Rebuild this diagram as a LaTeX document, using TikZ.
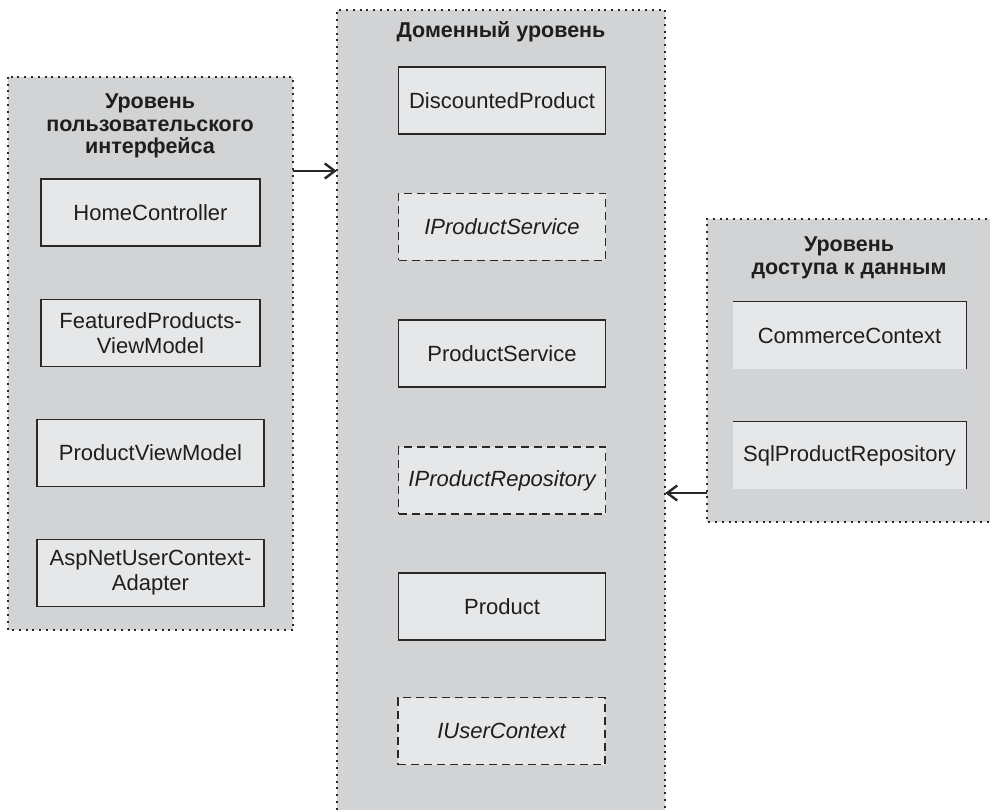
\documentclass[tikz,border=0pt]{standalone}
\usepackage{fontspec}
\setmainfont{Liberation Sans}
\usetikzlibrary{arrows.meta}
\definecolor{layergray}{RGB}{210,211,213}
\definecolor{boxgray}{RGB}{230,231,232}
\definecolor{ink}{RGB}{40,40,40}
\definecolor{txt}{RGB}{30,30,30}
\tikzset{
  layer/.style={fill=layergray, draw=none, inner sep=0pt, rectangle},
  layerborder/.style={draw=ink, line width=2pt, dash pattern=on 2pt off 4.8pt},
  cls/.style={rectangle, fill=boxgray, draw=ink, line width=1.3pt, inner sep=0pt, text=txt,
    minimum height=67pt, align=center, font=\fontsize{22}{25}\selectfont},
  iface/.style={cls, dash pattern=on 8pt off 5pt, font=\fontsize{22}{25}\selectfont\itshape},
  dal/.style={rectangle, fill=boxgray, draw=none, inner sep=0pt, text=txt,
    minimum height=67pt, minimum width=233pt, align=center, font=\fontsize{22}{25}\selectfont},
  title/.style={align=center, inner sep=0pt, text=txt, font=\fontsize{21.5}{22.5}\selectfont\bfseries},
  arr/.style={draw=ink, line width=1.3pt, -{Straight Barb[length=10pt, width=15pt, line width=2.4pt]}}
}
\begin{document}
\begin{tikzpicture}[x=1pt, y=-1pt]
\clip (0,0) rectangle (990,810);
\useasboundingbox (0,0) rectangle (990,810);
\fill[white] (0,0) rectangle (990,810);

% layers
\node[layer, minimum width=285pt, minimum height=553pt] (ui) at (150.5,353.5) {};
\draw[layerborder] (ui.north west) rectangle (ui.south east);
\node[layer, minimum width=328pt, minimum height=820pt] (dom) at (501,420) {};
\draw[layerborder] (dom.south west) -- (dom.north west) -- (dom.north east) -- (dom.south east);
\node[layer, minimum width=300pt, minimum height=303pt] (dat) at (857,370.5) {};
\draw[layerborder] (dat.north east) -- (dat.north west) -- (dat.south west) -- (dat.south east);

% titles
\node[title] (uititle) at (150,126) {Уровень\\пользовательского\\интерфейса};
\node[title] (domtitle) at (501,32) {Доменный уровень};
\node[title] (dattitle) at (849,258) {Уровень\\доступа к данным};

% UI boxes
\node[cls, minimum width=219pt] (home) at (150.5,212.5) {HomeController};
\node[cls, minimum width=219pt] (fpvm) at (150.5,333) {FeaturedProducts-\\ViewModel};
\node[cls, minimum width=227pt] (pvm) at (150.5,453) {ProductViewModel};
\node[cls, minimum width=227pt] (aspnet) at (150.5,573) {AspNetUserContext-\\Adapter};

% domain boxes
\node[cls, minimum width=207pt] (disc) at (502,100.5) {DiscountedProduct};
\node[iface, minimum width=207pt] (ips) at (502,227) {IProductService};
\node[cls, minimum width=207pt] (ps) at (502,353.5) {ProductService};
\node[iface, minimum width=207pt] (ipr) at (502,480.5) {IProductRepository};
\node[cls, minimum width=207pt] (prod) at (502,606.5) {Product};
\node[iface, minimum width=207pt] (iuc) at (501.5,731) {IUserContext};

% data access boxes
\node[dal] (cc) at (849.5,335.5) {CommerceContext};
\draw[draw=ink, line width=1.2pt] (cc.north west) -- (cc.north east) -- (cc.south east);
\node[dal] (spr) at (849.5,455.5) {SqlProductRepository};
\draw[draw=ink, line width=1.2pt] (spr.north west) -- (spr.north east) -- (spr.south east);

% connectors
\coordinate (a1s) at (ui.east |- 0,171);
\coordinate (a1e) at (dom.west |- 0,171);
\draw[arr] (a1s) -- (a1e);
\coordinate (a2s) at (dat.west |- 0,493);
\coordinate (a2e) at (dom.east |- 0,493);
\draw[arr] (a2s) -- (a2e);
\end{tikzpicture}
\end{document}
